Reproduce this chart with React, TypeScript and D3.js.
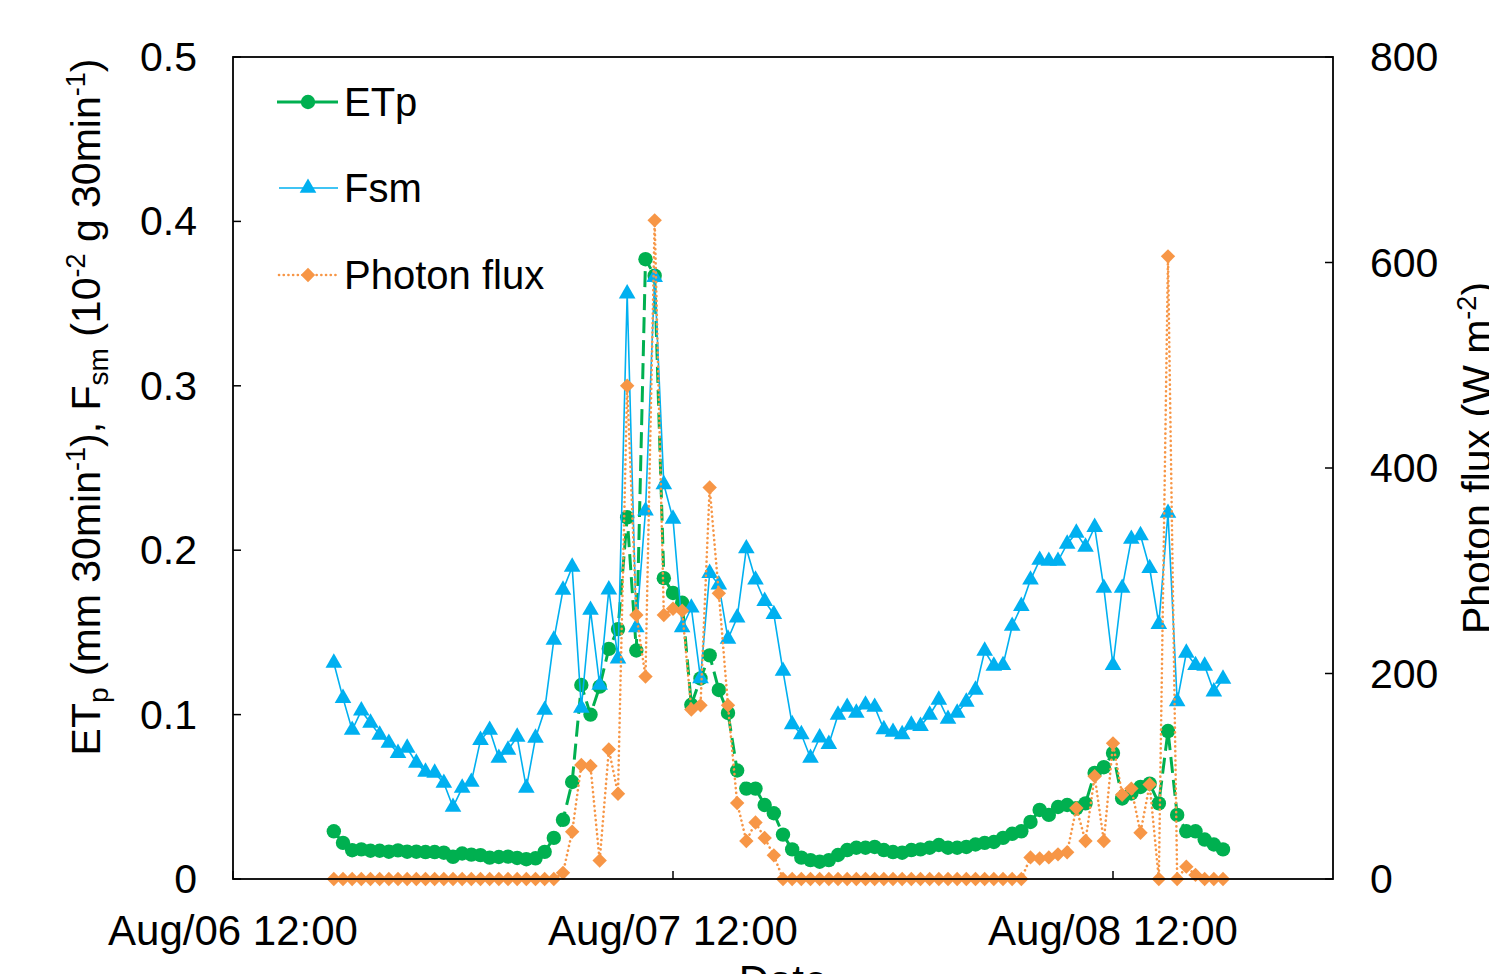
import * as d3 from "d3";

// half-hourly samples, first one at Aug/06 17:30
const firstSample = new Date(2016, 7, 6, 17, 30);
const stepMinutes = 30;

const etp = [
  0.029, 0.022, 0.0175, 0.018, 0.0172, 0.0172, 0.0166, 0.0174, 0.0166, 0.0166,
  0.0164, 0.0164, 0.016, 0.0135, 0.0155, 0.0148, 0.0145, 0.013, 0.0134, 0.0136,
  0.0128, 0.012, 0.0126, 0.0165, 0.025, 0.036, 0.059, 0.118, 0.1, 0.117,
  0.14, 0.152, 0.22, 0.139, 0.377, 0.367, 0.183, 0.174, 0.168, 0.106,
  0.122, 0.136, 0.115, 0.101, 0.066, 0.055, 0.055, 0.045, 0.04, 0.027,
  0.018, 0.013, 0.0115, 0.0105, 0.0115, 0.0146, 0.0176, 0.019, 0.019, 0.0195,
  0.0176, 0.0164, 0.016, 0.0176, 0.018, 0.019, 0.0207, 0.019, 0.019, 0.0195,
  0.021, 0.022, 0.0225, 0.025, 0.0275, 0.029, 0.0347, 0.042, 0.039, 0.0438,
  0.045, 0.043, 0.046, 0.0645, 0.068, 0.0766, 0.049, 0.052, 0.056, 0.058,
  0.046, 0.09, 0.039, 0.029, 0.029, 0.024, 0.021, 0.018,
];

const fsm = [
  0.1314, 0.11, 0.0906, 0.1024, 0.0949, 0.0876, 0.0827, 0.0766, 0.0797, 0.0706,
  0.0651, 0.0645, 0.0584, 0.0438, 0.0554, 0.059, 0.0845, 0.0906, 0.0736, 0.0785,
  0.0864, 0.0554, 0.0858, 0.1028, 0.1454, 0.1758, 0.1898, 0.104, 0.1636, 0.118,
  0.176, 0.134, 0.356, 0.153, 0.224, 0.366, 0.24, 0.219, 0.153, 0.165,
  0.122, 0.186, 0.179, 0.146, 0.159, 0.201, 0.182, 0.169, 0.161, 0.1265,
  0.094, 0.088, 0.0736, 0.086, 0.082, 0.0998, 0.1046, 0.101, 0.106, 0.1046,
  0.091, 0.0894, 0.088, 0.0937, 0.093, 0.0998, 0.1089, 0.0973, 0.101, 0.1077,
  0.115, 0.1387, 0.1296, 0.13, 0.1539, 0.166, 0.182, 0.194, 0.1934, 0.1934,
  0.2038, 0.2105, 0.202, 0.214, 0.177, 0.13, 0.177, 0.2068, 0.209, 0.189,
  0.155, 0.2226, 0.108, 0.1375, 0.13, 0.1296, 0.114, 0.1217,
];

const photon = [
  0, 0, 0, 0, 0, 0, 0, 0, 0, 0,
  0, 0, 0, 0, 0, 0, 0, 0, 0, 0,
  0, 0, 0, 0, 0, 6, 46, 111, 110, 18,
  126, 83, 480, 257, 197, 641, 257, 263, 261, 165,
  169, 381, 278, 169, 74, 37, 55, 40, 23, 0,
  0, 0, 0, 0, 0, 0, 0, 0, 0, 0,
  0, 0, 0, 0, 0, 0, 0, 0, 0, 0,
  0, 0, 0, 0, 0, 0, 21, 20, 21, 24,
  26, 69, 37, 100, 37, 132, 82, 88, 45, 92,
  0, 606, 0, 12, 4, 0, 0, 0,
];

const leftTicks = [0, 0.1, 0.2, 0.3, 0.4, 0.5];
const rightTicks = [0, 200, 400, 600, 800];
const xTicks = [
  new Date(2016, 7, 6, 12, 0),
  new Date(2016, 7, 7, 12, 0),
  new Date(2016, 7, 8, 12, 0),
];
const xTickLabels = ["Aug/06 12:00", "Aug/07 12:00", "Aug/08 12:00"];

const W = 1489;
const H = 974;
const plot = { left: 233, right: 1333, top: 57, bottom: 879 };
const font = "'Liberation Sans', Arial, sans-serif";

const GREEN = "#00B050";
const BLUE = "#00B0F0";
const ORANGE = "#F79646";

const times = etp.map((_, i) => new Date(firstSample.getTime() + i * stepMinutes * 60000));

const x = d3
  .scaleTime()
  .domain([new Date(2016, 7, 6, 12, 0), new Date(2016, 7, 9, 0, 0)])
  .range([plot.left, plot.right]);
const yL = d3.scaleLinear().domain([0, 0.5]).range([plot.bottom, plot.top]);
const yR = d3.scaleLinear().domain([0, 800]).range([plot.bottom, plot.top]);

const lineOf = (vals: number[], y: d3.ScaleLinear<number, number>) =>
  d3
    .line<number>()
    .x((_, i) => x(times[i]))
    .y((d) => y(d))(vals) || "";

const triangle = d3.symbol().type(d3.symbolTriangle).size(120)() || "";
const diamond = "M0,-7.2L7.2,0L0,7.2L-7.2,0Z";

function Legend() {
  const rows = [
    { label: "ETp", y: 102 },
    { label: "Fsm", y: 188 },
    { label: "Photon flux", y: 275 },
  ];
  return (
    <g>
      <line x1={277} x2={338} y1={rows[0].y} y2={rows[0].y} stroke={GREEN} strokeWidth={3} />
      <circle cx={308} cy={rows[0].y} r={7.2} fill={GREEN} />
      <line x1={279} x2={338} y1={rows[1].y} y2={rows[1].y} stroke={BLUE} strokeWidth={1.6} />
      <path d={triangle} transform={`translate(308,${rows[1].y})`} fill={BLUE} />
      <line
        x1={279}
        x2={338}
        y1={rows[2].y}
        y2={rows[2].y}
        stroke={ORANGE}
        strokeWidth={2.6}
        strokeDasharray="0.1,4.6"
        strokeLinecap="round"
      />
      <path d={diamond} transform={`translate(308,${rows[2].y})`} fill={ORANGE} />
      {rows.map((r) => (
        <text key={r.label} x={344} y={r.y + 14} fontSize={40} fontFamily={font}>
          {r.label}
        </text>
      ))}
    </g>
  );
}

export default function App() {
  return (
    <div style={{ position: "absolute", left: 0, top: 0 }}>
      <svg width={W} height={H} style={{ display: "block", background: "#fff" }}>
        {/* series: green, blue, then orange on the secondary axis */}
        <path
          d={lineOf(etp, yL)}
          fill="none"
          stroke={GREEN}
          strokeWidth={3}
          strokeDasharray="16,7"
        />
        {etp.map((d, i) => (
          <circle key={"e" + i} cx={x(times[i])} cy={yL(d)} r={7.2} fill={GREEN} />
        ))}
        <path d={lineOf(fsm, yL)} fill="none" stroke={BLUE} strokeWidth={1.6} />
        {fsm.map((d, i) => (
          <path
            key={"f" + i}
            d={triangle}
            transform={`translate(${x(times[i])},${yL(d)})`}
            fill={BLUE}
          />
        ))}
        <path
          d={lineOf(photon, yR)}
          fill="none"
          stroke={ORANGE}
          strokeWidth={2.6}
          strokeDasharray="0.1,4.6"
          strokeLinecap="round"
        />
        {photon.map((d, i) => (
          <path
            key={"p" + i}
            d={diamond}
            transform={`translate(${x(times[i])},${yR(d)})`}
            fill={ORANGE}
          />
        ))}

        {/* frame */}
        <rect
          x={plot.left}
          y={plot.top}
          width={plot.right - plot.left}
          height={plot.bottom - plot.top}
          fill="none"
          stroke="#000"
          strokeWidth={1.8}
        />

        {/* left axis */}
        {leftTicks.map((t) => (
          <g key={"l" + t}>
            <line x1={plot.left} x2={plot.left + 8} y1={yL(t)} y2={yL(t)} stroke="#000" strokeWidth={1.5} />
            <text x={197} y={yL(t) + 14} textAnchor="end" fontSize={41} fontFamily={font}>
              {t === 0 ? "0" : t.toFixed(1)}
            </text>
          </g>
        ))}

        {/* right axis */}
        {rightTicks.map((t) => (
          <g key={"r" + t}>
            <line x1={plot.right - 8} x2={plot.right} y1={yR(t)} y2={yR(t)} stroke="#000" strokeWidth={1.5} />
            <text x={1370} y={yR(t) + 14} fontSize={41} fontFamily={font}>
              {t}
            </text>
          </g>
        ))}

        {/* bottom axis */}
        {xTicks.map((t, i) => (
          <g key={"x" + i}>
            <line x1={x(t)} x2={x(t)} y1={plot.bottom - 8} y2={plot.bottom} stroke="#000" strokeWidth={1.5} />
            <text x={x(t)} y={945} textAnchor="middle" fontSize={42} fontFamily={font}>
              {xTickLabels[i]}
            </text>
          </g>
        ))}

        <text x={783} y={995} textAnchor="middle" fontSize={42} fontFamily={font}>
          Date
        </text>

        <text
          transform="translate(100,407) rotate(-90)"
          textAnchor="middle"
          fontSize={41}
          fontFamily={font}
        >
          ET
          <tspan fontSize={28} dy={8}>p</tspan>
          <tspan dy={-8}> (mm 30min</tspan>
          <tspan fontSize={27} dy={-15}>-1</tspan>
          <tspan dy={15}>), F</tspan>
          <tspan fontSize={28} dy={8}>sm</tspan>
          <tspan dy={-8}> (10</tspan>
          <tspan fontSize={27} dy={-15}>-2</tspan>
          <tspan dy={15}> g 30min</tspan>
          <tspan fontSize={27} dy={-15}>-1</tspan>
          <tspan dy={15}>)</tspan>
        </text>

        <text
          transform="translate(1491,458) rotate(-90)"
          textAnchor="middle"
          fontSize={41}
          fontFamily={font}
        >
          Photon flux (W m
          <tspan fontSize={27} dy={-15}>-2</tspan>
          <tspan dy={15}>)</tspan>
        </text>

        <Legend />
      </svg>
    </div>
  );
}
